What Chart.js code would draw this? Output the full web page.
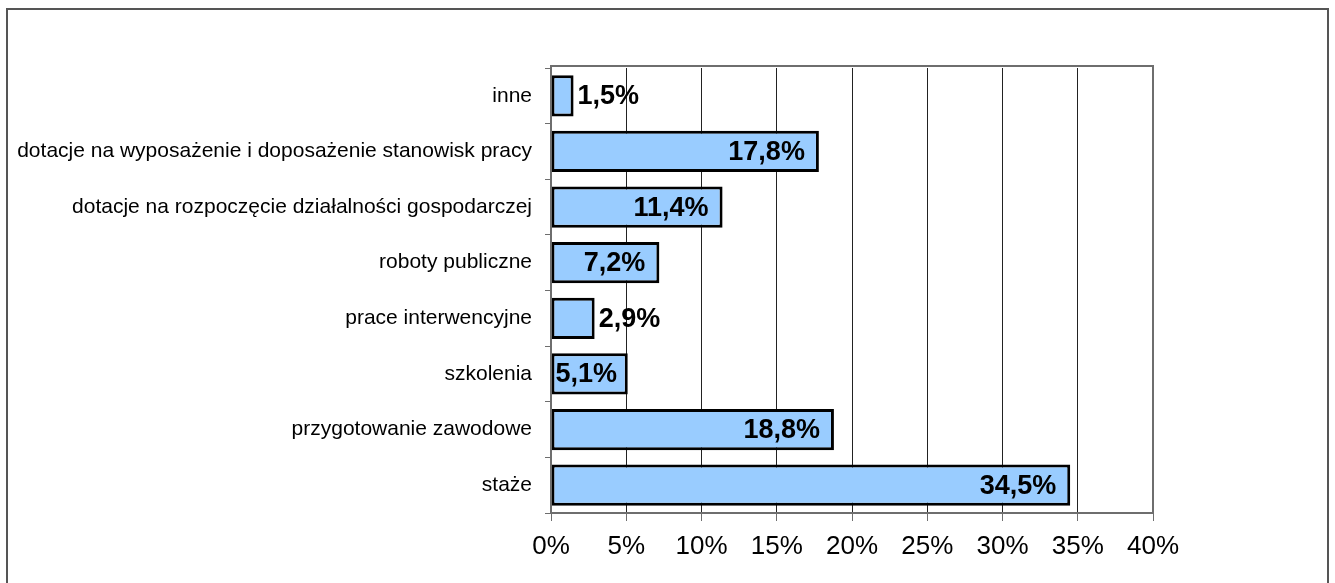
<!DOCTYPE html>
<html>
<head>
<meta charset="utf-8">
<script src="https://cdn.jsdelivr.net/npm/chart.js@4.4.0/dist/chart.umd.min.js"></script>
<style>
  html, body { margin: 0; padding: 0; background: #fff; }
  #wrap { width: 1335px; height: 583px; }
</style>
</head>
<body>
<div id="wrap"><canvas id="wykres"></canvas></div>
<script>
// dane z wykresu
var kategorie = [
  'inne',
  'dotacje na wyposażenie i doposażenie stanowisk pracy',
  'dotacje na rozpoczęcie działalności gospodarczej',
  'roboty publiczne',
  'prace interwencyjne',
  'szkolenia',
  'przygotowanie zawodowe',
  'staże'
];
var udzial = [1.5, 17.8, 11.4, 7.2, 2.9, 5.1, 18.8, 34.5];
var osX = [0, 5, 10, 15, 20, 25, 30, 35, 40];

// ramka wokol calosci i wokol obszaru wykresu
var ramki = {
  id: 'ramki',
  afterDraw: function (chart) {
    var ctx = chart.ctx, a = chart.chartArea;
    ctx.save();
    ctx.strokeStyle = '#6e6e6e';
    ctx.lineWidth = 2;
    ctx.strokeRect(a.left, a.top - 2, a.right - a.left, a.bottom - a.top + 2);
    ctx.strokeStyle = '#555';
    ctx.strokeRect(7, 9, 1321, 600);
    ctx.restore();
  }
};

// etykiety wartosci przy koncach slupkow
var etykiety = {
  id: 'etykiety',
  afterDatasetsDraw: function (chart) {
    var ctx = chart.ctx;
    var meta = chart.getDatasetMeta(0);
    ctx.save();
    ctx.font = 'bold 27px "Liberation Sans", Arial, sans-serif';
    ctx.fillStyle = '#000';
    ctx.textBaseline = 'middle';
    meta.data.forEach(function (bar, i) {
      var txt = udzial[i].toFixed(1).replace('.', ',') + '%';
      var w = ctx.measureText(txt).width;
      var szer = bar.x - bar.base;
      if (w + 6 < szer) {
        ctx.textAlign = 'right';
        ctx.fillText(txt, Math.max(bar.x - 14, bar.base + w + 4), bar.y + 1);
      } else {
        ctx.textAlign = 'left';
        ctx.fillText(txt, bar.x + 4, bar.y + 1);
      }
    });
    ctx.restore();
  }
};

new Chart(document.getElementById('wykres'), {
  type: 'bar',
  data: {
    labels: kategorie,
    datasets: [{
      data: udzial,
      backgroundColor: '#99ccff',
      borderColor: '#000',
      borderWidth: 3,
      borderSkipped: false,
      barPercentage: 0.74,
      categoryPercentage: 1
    }]
  },
  options: {
    indexAxis: 'y',
    responsive: true,
    maintainAspectRatio: false,
    animation: false,
    layout: { padding: { top: 68, right: 182, left: 0, bottom: 0 } },
    plugins: {
      legend: { display: false },
      tooltip: { enabled: false }
    },
    scales: {
      x: {
        min: 0,
        max: 40,
        afterBuildTicks: function (s) { s.ticks = osX.map(function (v) { return { value: v }; }); },
        afterFit: function (s) { s.height = 70; },
        ticks: {
          color: '#000',
          padding: 10,
          maxRotation: 0,
          font: { family: '"Liberation Sans", Arial, sans-serif', size: 26 },
          callback: function (v) { return v + '%'; }
        },
        grid: { color: '#222', lineWidth: 1, tickLength: 8, tickColor: '#6e6e6e' },
        border: { color: '#6e6e6e', width: 2 }
      },
      y: {
        afterFit: function (s) { s.width = 551; },
        ticks: {
          color: '#000',
          padding: 13,
          font: { family: '"Liberation Sans", Arial, sans-serif', size: 21 }
        },
        grid: { drawOnChartArea: false, offset: true, tickLength: 6, color: '#6e6e6e' },
        border: { color: '#6e6e6e', width: 2 }
      }
    }
  },
  plugins: [ramki, etykiety]
});
</script>
</body>
</html>
